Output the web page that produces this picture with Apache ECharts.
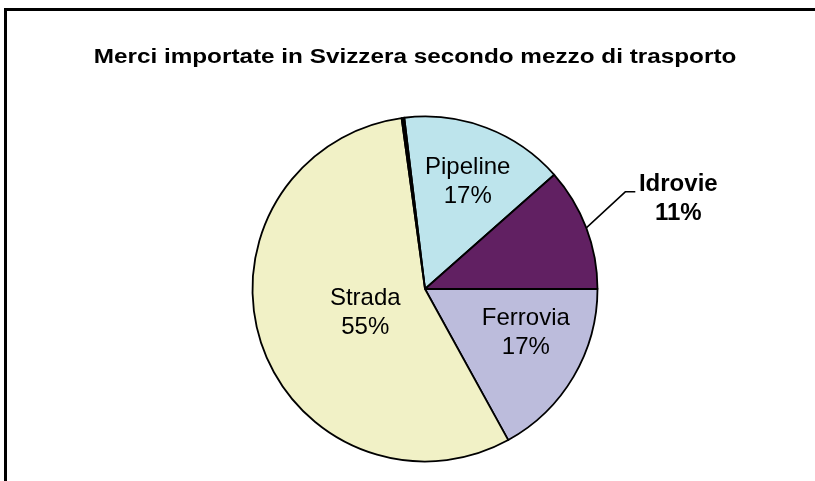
<!DOCTYPE html>
<html>
<head>
<meta charset="utf-8">
<style>
  html, body { margin: 0; padding: 0; background: #ffffff; }
  #chart { width: 815px; height: 481px; }
</style>
<script src="https://cdn.jsdelivr.net/npm/echarts@6/dist/echarts.min.js"></script>
</head>
<body>
<div id="chart"></div>
<script>
// ---- data ----
const titleText = 'Merci importate in Svizzera secondo mezzo di trasporto';
const categories = ['Pipeline', 'Idrovie', 'Ferrovia', 'Strada', 'Aria'];
const values = [15.4, 11.5, 17.0, 55.85, 0.25];        // slice sizes as drawn
const printedPercents = ['17%', '11%', '17%', '55%', '']; // percentages printed on the chart
const colors = ['#BDE4EC', '#612062', '#BCBCDC', '#F1F1C6', '#000000'];

// ---- label placement tweaks (style) ----
const labelShift = {
  0: [11, -24],
  2: [24, -1],
  3: [25, -4]
};

const chart = echarts.init(document.getElementById('chart'), null, { renderer: 'canvas' });

const data = categories.map((name, i) => {
  const item = {
    name: name,
    value: values[i],
    itemStyle: { color: colors[i] }
  };
  if (name === 'Idrovie') {
    item.label = {
      show: true, position: 'outside', fontWeight: 'bold',
      formatter: '{b}\n' + printedPercents[i]
    };
    item.labelLine = { show: true, length: 10, length2: 10, lineStyle: { color: '#000', width: 1.5 } };
  } else if (name === 'Aria') {
    item.label = { show: false };
    item.labelLine = { show: false };
  } else {
    item.label = {
      show: true, position: 'inside',
      formatter: '{b}\n' + printedPercents[i]
    };
    item.labelLine = { show: false };
  }
  return item;
});

const option = {
  backgroundColor: '#ffffff',
  animation: false,
  graphic: [
    { type: 'rect', shape: { x: 4, y: 8, width: 811, height: 3 }, style: { fill: '#000' } },
    { type: 'rect', shape: { x: 4, y: 8, width: 3, height: 473 }, style: { fill: '#000' } },
    {
      type: 'text', x: 415, y: 58, scaleX: 1.24, scaleY: 1,
      style: {
        text: titleText, fill: '#000',
        font: 'bold 19.6px "Liberation Sans", Arial, sans-serif',
        textAlign: 'center', textVerticalAlign: 'middle'
      }
    }
  ],
  series: [{
    type: 'pie',
    center: [425, 289],
    radius: [0, 172.5],
    startAngle: 96.9,
    clockwise: true,
    avoidLabelOverlap: false,
    itemStyle: { borderColor: '#000', borderWidth: 1.8 },
    label: {
      color: '#000',
      fontFamily: '"Liberation Sans", Arial, sans-serif',
      fontSize: 24,
      lineHeight: 29,
      align: 'center'
    },
    emphasis: { disabled: true },
    labelLayout: function (p) {
      const i = p.dataIndex;
      if (categories[i] === 'Idrovie' && p.labelLinePoints) {
        const p0 = p.labelLinePoints[0];
        const p1 = [p0[0] + 39, p0[1] - 36];
        const p2 = [p0[0] + 49, p0[1] - 36];
        return {
          x: p0[0] + 92, y: p0[1] - 29,
          align: 'center', verticalAlign: 'middle',
          labelLinePoints: [p0, p1, p2]
        };
      }
      if (labelShift[i]) {
        return { dx: labelShift[i][0], dy: labelShift[i][1] };
      }
      return {};
    },
    data: data
  }]
};

chart.setOption(option);
</script>
</body>
</html>
